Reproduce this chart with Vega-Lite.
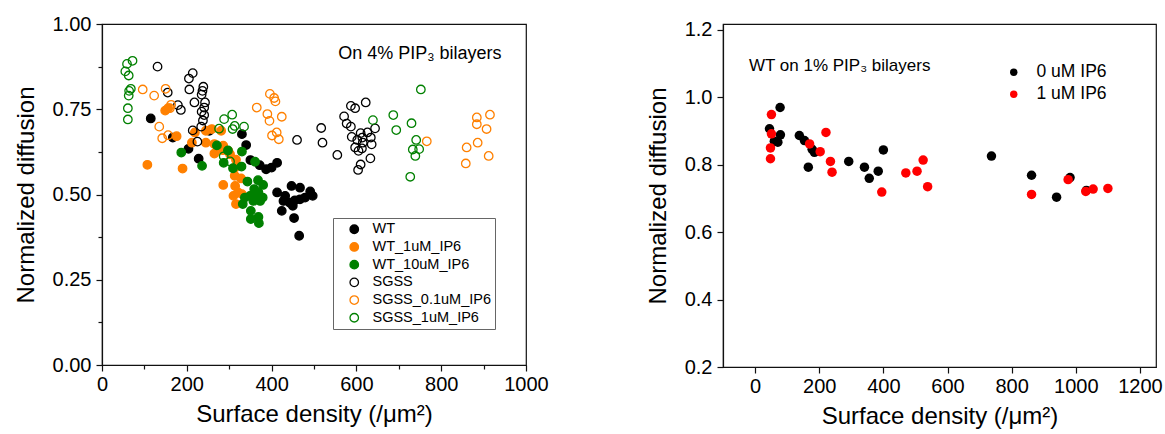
{
  "$schema": "https://vega.github.io/schema/vega-lite/v6.json",
  "background": "white",
  "padding": {"left": 13, "top": 13, "right": 5, "bottom": 5},
  "spacing": 96,
  "config": {
    "font": "Liberation Sans",
    "view": {"stroke": "#111", "strokeWidth": 1.2},
    "axis": {"domainColor": "#111", "domainWidth": 1.2, "tickColor": "#111", "tickWidth": 1.2, "labelColor": "#000", "titleColor": "#000", "labelFontSize": 20, "titleFontSize": 24, "titleFontWeight": "normal", "labelFont": "Liberation Sans", "titleFont": "Liberation Sans", "grid": false, "labelPadding": 3, "labelOverlap": false, "labelFlush": false}
  },
  "datasets": {
    "left": [
      {"x":115,"y":0.723,"g":"WT"},{"x":167,"y":0.667,"g":"WT"},{"x":204,"y":0.634,"g":"WT"},{"x":228,"y":0.605,"g":"WT"},{"x":253,"y":0.687,"g":"WT"},{"x":330,"y":0.677,"g":"WT"},{"x":340,"y":0.645,"g":"WT"},{"x":350,"y":0.601,"g":"WT"},{"x":372,"y":0.586,"g":"WT"},{"x":387,"y":0.574,"g":"WT"},{"x":400,"y":0.579,"g":"WT"},{"x":413,"y":0.593,"g":"WT"},{"x":413,"y":0.506,"g":"WT"},{"x":432,"y":0.496,"g":"WT"},{"x":447,"y":0.525,"g":"WT"},{"x":467,"y":0.520,"g":"WT"},{"x":428,"y":0.481,"g":"WT"},{"x":443,"y":0.476,"g":"WT"},{"x":455,"y":0.483,"g":"WT"},{"x":479,"y":0.491,"g":"WT"},{"x":491,"y":0.509,"g":"WT"},{"x":497,"y":0.496,"g":"WT"},{"x":450,"y":0.467,"g":"WT"},{"x":424,"y":0.452,"g":"WT"},{"x":453,"y":0.431,"g":"WT"},{"x":465,"y":0.379,"g":"WT"},{"x":467,"y":0.486,"g":"WT"},
      {"x":107,"y":0.587,"g":"WT_1uM_IP6"},{"x":149,"y":0.746,"g":"WT_1uM_IP6"},{"x":156,"y":0.753,"g":"WT_1uM_IP6"},{"x":176,"y":0.671,"g":"WT_1uM_IP6"},{"x":190,"y":0.576,"g":"WT_1uM_IP6"},{"x":212,"y":0.652,"g":"WT_1uM_IP6"},{"x":219,"y":0.682,"g":"WT_1uM_IP6"},{"x":245,"y":0.687,"g":"WT_1uM_IP6"},{"x":259,"y":0.692,"g":"WT_1uM_IP6"},{"x":281,"y":0.687,"g":"WT_1uM_IP6"},{"x":245,"y":0.652,"g":"WT_1uM_IP6"},{"x":265,"y":0.648,"g":"WT_1uM_IP6"},{"x":265,"y":0.620,"g":"WT_1uM_IP6"},{"x":285,"y":0.630,"g":"WT_1uM_IP6"},{"x":302,"y":0.618,"g":"WT_1uM_IP6"},{"x":316,"y":0.602,"g":"WT_1uM_IP6"},{"x":314,"y":0.579,"g":"WT_1uM_IP6"},{"x":313,"y":0.555,"g":"WT_1uM_IP6"},{"x":328,"y":0.547,"g":"WT_1uM_IP6"},{"x":286,"y":0.528,"g":"WT_1uM_IP6"},{"x":314,"y":0.525,"g":"WT_1uM_IP6"},{"x":321,"y":0.506,"g":"WT_1uM_IP6"},{"x":330,"y":0.501,"g":"WT_1uM_IP6"},{"x":316,"y":0.472,"g":"WT_1uM_IP6"},{"x":310,"y":0.496,"g":"WT_1uM_IP6"},{"x":286,"y":0.643,"g":"WT_1uM_IP6"},{"x":298,"y":0.628,"g":"WT_1uM_IP6"},
      {"x":187,"y":0.623,"g":"WT_10uM_IP6"},{"x":236,"y":0.584,"g":"WT_10uM_IP6"},{"x":271,"y":0.644,"g":"WT_10uM_IP6"},{"x":297,"y":0.629,"g":"WT_10uM_IP6"},{"x":330,"y":0.626,"g":"WT_10uM_IP6"},{"x":287,"y":0.593,"g":"WT_10uM_IP6"},{"x":309,"y":0.577,"g":"WT_10uM_IP6"},{"x":329,"y":0.582,"g":"WT_10uM_IP6"},{"x":361,"y":0.596,"g":"WT_10uM_IP6"},{"x":343,"y":0.538,"g":"WT_10uM_IP6"},{"x":368,"y":0.542,"g":"WT_10uM_IP6"},{"x":380,"y":0.528,"g":"WT_10uM_IP6"},{"x":359,"y":0.516,"g":"WT_10uM_IP6"},{"x":349,"y":0.496,"g":"WT_10uM_IP6"},{"x":337,"y":0.491,"g":"WT_10uM_IP6"},{"x":332,"y":0.472,"g":"WT_10uM_IP6"},{"x":363,"y":0.491,"g":"WT_10uM_IP6"},{"x":379,"y":0.491,"g":"WT_10uM_IP6"},{"x":369,"y":0.506,"g":"WT_10uM_IP6"},{"x":351,"y":0.452,"g":"WT_10uM_IP6"},{"x":351,"y":0.428,"g":"WT_10uM_IP6"},{"x":369,"y":0.434,"g":"WT_10uM_IP6"},{"x":370,"y":0.416,"g":"WT_10uM_IP6"},{"x":357,"y":0.481,"g":"WT_10uM_IP6"},{"x":373,"y":0.481,"g":"WT_10uM_IP6"},
      {"x":131,"y":0.875,"g":"SGSS"},{"x":214,"y":0.856,"g":"SGSS"},{"x":205,"y":0.840,"g":"SGSS"},{"x":155,"y":0.799,"g":"SGSS"},{"x":206,"y":0.808,"g":"SGSS"},{"x":239,"y":0.816,"g":"SGSS"},{"x":237,"y":0.804,"g":"SGSS"},{"x":235,"y":0.793,"g":"SGSS"},{"x":218,"y":0.770,"g":"SGSS"},{"x":179,"y":0.762,"g":"SGSS"},{"x":186,"y":0.748,"g":"SGSS"},{"x":243,"y":0.770,"g":"SGSS"},{"x":241,"y":0.755,"g":"SGSS"},{"x":235,"y":0.743,"g":"SGSS"},{"x":241,"y":0.733,"g":"SGSS"},{"x":238,"y":0.717,"g":"SGSS"},{"x":234,"y":0.699,"g":"SGSS"},{"x":214,"y":0.688,"g":"SGSS"},{"x":225,"y":0.655,"g":"SGSS"},{"x":460,"y":0.660,"g":"SGSS"},{"x":517,"y":0.695,"g":"SGSS"},{"x":520,"y":0.652,"g":"SGSS"},{"x":622,"y":0.770,"g":"SGSS"},{"x":587,"y":0.760,"g":"SGSS"},{"x":597,"y":0.753,"g":"SGSS"},{"x":571,"y":0.729,"g":"SGSS"},{"x":577,"y":0.708,"g":"SGSS"},{"x":587,"y":0.699,"g":"SGSS"},{"x":555,"y":0.616,"g":"SGSS"},{"x":610,"y":0.680,"g":"SGSS"},{"x":626,"y":0.682,"g":"SGSS"},{"x":644,"y":0.694,"g":"SGSS"},{"x":589,"y":0.669,"g":"SGSS"},{"x":614,"y":0.667,"g":"SGSS"},{"x":602,"y":0.660,"g":"SGSS"},{"x":634,"y":0.667,"g":"SGSS"},{"x":636,"y":0.647,"g":"SGSS"},{"x":597,"y":0.638,"g":"SGSS"},{"x":613,"y":0.635,"g":"SGSS"},{"x":605,"y":0.628,"g":"SGSS"},{"x":633,"y":0.606,"g":"SGSS"},{"x":610,"y":0.588,"g":"SGSS"},{"x":604,"y":0.572,"g":"SGSS"},{"x":615,"y":0.652,"g":"SGSS"},
      {"x":96,"y":0.808,"g":"SGSS_0.1uM_IP6"},{"x":150,"y":0.810,"g":"SGSS_0.1uM_IP6"},{"x":123,"y":0.790,"g":"SGSS_0.1uM_IP6"},{"x":163,"y":0.763,"g":"SGSS_0.1uM_IP6"},{"x":160,"y":0.753,"g":"SGSS_0.1uM_IP6"},{"x":135,"y":0.699,"g":"SGSS_0.1uM_IP6"},{"x":142,"y":0.665,"g":"SGSS_0.1uM_IP6"},{"x":156,"y":0.674,"g":"SGSS_0.1uM_IP6"},{"x":396,"y":0.795,"g":"SGSS_0.1uM_IP6"},{"x":406,"y":0.783,"g":"SGSS_0.1uM_IP6"},{"x":409,"y":0.773,"g":"SGSS_0.1uM_IP6"},{"x":365,"y":0.755,"g":"SGSS_0.1uM_IP6"},{"x":390,"y":0.736,"g":"SGSS_0.1uM_IP6"},{"x":395,"y":0.716,"g":"SGSS_0.1uM_IP6"},{"x":424,"y":0.728,"g":"SGSS_0.1uM_IP6"},{"x":412,"y":0.682,"g":"SGSS_0.1uM_IP6"},{"x":401,"y":0.673,"g":"SGSS_0.1uM_IP6"},{"x":417,"y":0.662,"g":"SGSS_0.1uM_IP6"},{"x":884,"y":0.726,"g":"SGSS_0.1uM_IP6"},{"x":915,"y":0.734,"g":"SGSS_0.1uM_IP6"},{"x":884,"y":0.706,"g":"SGSS_0.1uM_IP6"},{"x":907,"y":0.692,"g":"SGSS_0.1uM_IP6"},{"x":766,"y":0.656,"g":"SGSS_0.1uM_IP6"},{"x":886,"y":0.652,"g":"SGSS_0.1uM_IP6"},{"x":860,"y":0.638,"g":"SGSS_0.1uM_IP6"},{"x":912,"y":0.613,"g":"SGSS_0.1uM_IP6"},{"x":858,"y":0.591,"g":"SGSS_0.1uM_IP6"},
      {"x":72,"y":0.892,"g":"SGSS_1uM_IP6"},{"x":59,"y":0.883,"g":"SGSS_1uM_IP6"},{"x":55,"y":0.861,"g":"SGSS_1uM_IP6"},{"x":63,"y":0.849,"g":"SGSS_1uM_IP6"},{"x":68,"y":0.810,"g":"SGSS_1uM_IP6"},{"x":64,"y":0.804,"g":"SGSS_1uM_IP6"},{"x":63,"y":0.790,"g":"SGSS_1uM_IP6"},{"x":61,"y":0.753,"g":"SGSS_1uM_IP6"},{"x":61,"y":0.720,"g":"SGSS_1uM_IP6"},{"x":307,"y":0.734,"g":"SGSS_1uM_IP6"},{"x":288,"y":0.721,"g":"SGSS_1uM_IP6"},{"x":313,"y":0.701,"g":"SGSS_1uM_IP6"},{"x":335,"y":0.699,"g":"SGSS_1uM_IP6"},{"x":276,"y":0.693,"g":"SGSS_1uM_IP6"},{"x":308,"y":0.692,"g":"SGSS_1uM_IP6"},{"x":287,"y":0.612,"g":"SGSS_1uM_IP6"},{"x":302,"y":0.597,"g":"SGSS_1uM_IP6"},{"x":752,"y":0.808,"g":"SGSS_1uM_IP6"},{"x":687,"y":0.733,"g":"SGSS_1uM_IP6"},{"x":639,"y":0.718,"g":"SGSS_1uM_IP6"},{"x":730,"y":0.709,"g":"SGSS_1uM_IP6"},{"x":694,"y":0.689,"g":"SGSS_1uM_IP6"},{"x":741,"y":0.660,"g":"SGSS_1uM_IP6"},{"x":733,"y":0.632,"g":"SGSS_1uM_IP6"},{"x":748,"y":0.633,"g":"SGSS_1uM_IP6"},{"x":739,"y":0.613,"g":"SGSS_1uM_IP6"},{"x":727,"y":0.552,"g":"SGSS_1uM_IP6"}
    ],
    "leftText": [{"x":557,"y":0.913,"t":"On 4% PIP₃ bilayers"}],
    "right": [
      {"x":78,"y":0.970,"c":"0 uM IP6"},{"x":45,"y":0.907,"c":"0 uM IP6"},{"x":79,"y":0.889,"c":"0 uM IP6"},{"x":60,"y":0.870,"c":"0 uM IP6"},{"x":71,"y":0.867,"c":"0 uM IP6"},{"x":138,"y":0.887,"c":"0 uM IP6"},{"x":154,"y":0.872,"c":"0 uM IP6"},{"x":178,"y":0.846,"c":"0 uM IP6"},{"x":185,"y":0.837,"c":"0 uM IP6"},{"x":166,"y":0.793,"c":"0 uM IP6"},{"x":292,"y":0.810,"c":"0 uM IP6"},{"x":341,"y":0.793,"c":"0 uM IP6"},{"x":356,"y":0.760,"c":"0 uM IP6"},{"x":384,"y":0.781,"c":"0 uM IP6"},{"x":400,"y":0.844,"c":"0 uM IP6"},{"x":737,"y":0.826,"c":"0 uM IP6"},{"x":862,"y":0.769,"c":"0 uM IP6"},{"x":982,"y":0.762,"c":"0 uM IP6"},{"x":940,"y":0.704,"c":"0 uM IP6"},{"x":1033,"y":0.724,"c":"0 uM IP6"},
      {"x":51,"y":0.949,"c":"1 uM IP6"},{"x":51,"y":0.892,"c":"1 uM IP6"},{"x":48,"y":0.850,"c":"1 uM IP6"},{"x":48,"y":0.818,"c":"1 uM IP6"},{"x":170,"y":0.862,"c":"1 uM IP6"},{"x":203,"y":0.839,"c":"1 uM IP6"},{"x":221,"y":0.896,"c":"1 uM IP6"},{"x":235,"y":0.810,"c":"1 uM IP6"},{"x":240,"y":0.778,"c":"1 uM IP6"},{"x":395,"y":0.719,"c":"1 uM IP6"},{"x":470,"y":0.776,"c":"1 uM IP6"},{"x":505,"y":0.781,"c":"1 uM IP6"},{"x":524,"y":0.814,"c":"1 uM IP6"},{"x":538,"y":0.735,"c":"1 uM IP6"},{"x":862,"y":0.712,"c":"1 uM IP6"},{"x":976,"y":0.756,"c":"1 uM IP6"},{"x":1031,"y":0.721,"c":"1 uM IP6"},{"x":1054,"y":0.728,"c":"1 uM IP6"},{"x":1100,"y":0.730,"c":"1 uM IP6"}
    ],
    "rightText": [{"x":-19,"y":1.092,"t":"WT on 1% PIP₃ bilayers"}]
  },
  "hconcat": [
    {
      "width": 424,
      "height": 341,
      "layer": [
        {
          "data": {"name": "left"},
          "mark": {"type": "point", "strokeWidth": 1.3, "opacity": 1},
          "encoding": {
            "x": {"field": "x", "type": "quantitative", "scale": {"domain": [0, 1000], "nice": false, "zero": false},
              "axis": {"title": "Surface density (/μm²)", "format": "d", "values": [0,100,200,300,400,500,600,700,800,900,1000], "labelExpr": "datum.value % 200 === 0 ? datum.label : ''", "tickSize": {"condition": {"test": "datum.value % 200 !== 0", "value": 4}, "value": 6}, "titlePadding": 8}},
            "y": {"field": "y", "type": "quantitative", "scale": {"domain": [0, 1], "nice": false, "zero": false},
              "axis": {"title": "Normalized diffusion", "format": ".2f", "values": [0,0.125,0.25,0.375,0.5,0.625,0.75,0.875,1], "labelExpr": "datum.value % 0.25 === 0 ? datum.label : ''", "tickSize": {"condition": {"test": "datum.value % 0.25 !== 0", "value": 4}, "value": 6}, "labelPadding": 5, "titlePadding": 14}},
            "fill": {"field": "g", "type": "nominal",
              "scale": {"domain": ["WT","WT_1uM_IP6","WT_10uM_IP6","SGSS","SGSS_0.1uM_IP6","SGSS_1uM_IP6"], "range": ["#000000","#ff8000","#008000","transparent","transparent","transparent"]},
              "legend": {"orient": "none", "legendX": 231, "legendY": 194, "title": null, "labelFontSize": 14.5, "labelFont": "Liberation Sans", "labelColor": "#000", "strokeColor": "#666", "padding": 4, "rowPadding": 1.7, "symbolOffset": 10, "labelOffset": 11, "symbolStrokeWidth": 1.3, "symbolType": "circle"}},
            "stroke": {"field": "g", "type": "nominal",
              "scale": {"domain": ["WT","WT_1uM_IP6","WT_10uM_IP6","SGSS","SGSS_0.1uM_IP6","SGSS_1uM_IP6"], "range": ["#000000","#ff8000","#008000","#000000","#ff8000","#008000"]},
              "legend": {"orient": "none", "legendX": 231, "legendY": 194, "title": null, "labelFontSize": 14.5, "labelFont": "Liberation Sans", "labelColor": "#000", "strokeColor": "#666", "padding": 4, "rowPadding": 1.7, "symbolOffset": 10, "labelOffset": 11, "symbolStrokeWidth": 1.3, "symbolType": "circle"}},
            "size": {"field": "g", "type": "nominal",
              "scale": {"domain": ["WT","WT_1uM_IP6","WT_10uM_IP6","SGSS","SGSS_0.1uM_IP6","SGSS_1uM_IP6"], "range": [72,72,72,46,46,46]},
              "legend": {"orient": "none", "legendX": 231, "legendY": 194, "title": null, "labelFontSize": 14.5, "labelFont": "Liberation Sans", "labelColor": "#000", "strokeColor": "#666", "padding": 4, "rowPadding": 1.7, "symbolOffset": 10, "labelOffset": 11, "symbolStrokeWidth": 1.3, "symbolType": "circle"}}
          }
        },
        {
          "data": {"name": "leftText"},
          "mark": {"type": "text", "align": "left", "baseline": "middle", "fontSize": 18, "font": "Liberation Sans", "color": "#000"},
          "encoding": {
            "x": {"field": "x", "type": "quantitative"},
            "y": {"field": "y", "type": "quantitative"},
            "text": {"field": "t"}
          }
        }
      ]
    },
    {
      "width": 433,
      "height": 343,
      "layer": [
        {
          "data": {"name": "right"},
          "mark": {"type": "point", "filled": true, "opacity": 1, "size": 90, "strokeWidth": 0},
          "encoding": {
            "x": {"field": "x", "type": "quantitative", "scale": {"domain": [-100, 1250], "nice": false, "zero": false},
              "axis": {"title": "Surface density (/μm²)", "format": "d", "values": [0,100,200,300,400,500,600,700,800,900,1000,1100,1200], "labelExpr": "datum.value % 200 === 0 ? datum.label : ''", "tickSize": {"condition": {"test": "datum.value % 200 !== 0", "value": 4}, "value": 6}, "titlePadding": 8}},
            "y": {"field": "y", "type": "quantitative", "scale": {"domain": [0.2, 1.2178], "nice": false, "zero": false},
              "axis": {"title": "Normalized diffusion", "format": ".1f", "values": [0.2,0.3,0.4,0.5,0.6,0.7,0.8,0.9,1.0,1.1,1.2], "labelExpr": "round(datum.value*10) % 2 === 0 ? datum.label : ''", "tickSize": {"condition": {"test": "round(datum.value*10) % 2 === 1", "value": 4}, "value": 6}, "labelPadding": 5, "titlePadding": 14}},
            "color": {"field": "c", "type": "nominal",
              "scale": {"domain": ["0 uM IP6","1 uM IP6"], "range": ["#000000","#ff0000"]},
              "legend": {"orient": "none", "legendX": 282, "legendY": 39.5, "title": null, "labelFontSize": 17.5, "labelFont": "Liberation Sans", "labelColor": "#000", "padding": 0, "rowPadding": 3, "symbolSize": 55, "labelOffset": 14, "symbolType": "circle"}}
          }
        },
        {
          "data": {"name": "rightText"},
          "mark": {"type": "text", "align": "left", "baseline": "middle", "fontSize": 17, "font": "Liberation Sans", "color": "#000"},
          "encoding": {
            "x": {"field": "x", "type": "quantitative"},
            "y": {"field": "y", "type": "quantitative"},
            "text": {"field": "t"}
          }
        }
      ]
    }
  ],
  "resolve": {"scale": {"x": "independent", "y": "independent", "color": "independent", "fill": "independent", "stroke": "independent", "size": "independent"}, "legend": {"color": "independent", "fill": "independent", "stroke": "independent", "size": "independent"}}
}
